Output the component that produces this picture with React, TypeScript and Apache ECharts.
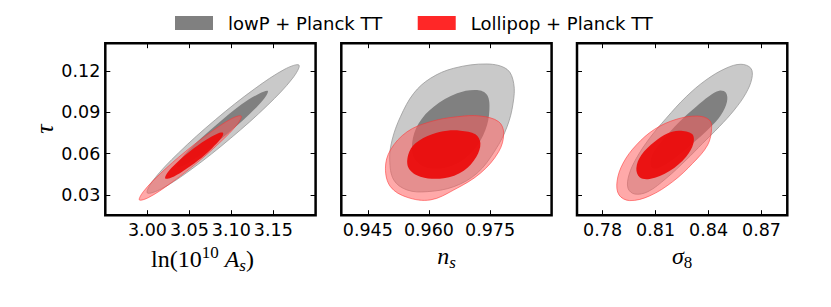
import React, { useEffect, useRef } from 'react';
import * as echarts from 'echarts';

// ---------- data ----------
const legendNames = ['lowP + Planck TT', 'Lollipop + Planck TT'];

const yTicks = [0.03, 0.06, 0.09, 0.12];
const yRange = [0.0153, 0.1402];

const xTicksAs = [3.0, 3.05, 3.1, 3.15];
const xRangeAs = [2.9498, 3.2004];
const xTicksNs = [0.945, 0.96, 0.975];
const xRangeNs = [0.9385, 0.9901];
const xTicksS8 = [0.78, 0.81, 0.84, 0.87];
const xRangeS8 = [0.7655, 0.8846];

// ln(10^10 As) vs tau
const lowP_As_95 = [
  [3.1806, 0.1243], [3.1731, 0.1148], [3.1434, 0.0953], [3.0994, 0.0713], [3.053, 0.0489], [3.0165, 0.0344],
  [2.9998, 0.0315], [3.0073, 0.041], [3.037, 0.0605], [3.0809, 0.0846], [3.1274, 0.1069], [3.1639, 0.1214],
];
const lowP_As_68 = [
  [3.1435, 0.1055], [3.139, 0.0998], [3.1212, 0.0884], [3.0947, 0.074], [3.067, 0.0608], [3.0451, 0.0521],
  [3.0352, 0.0503], [3.0397, 0.056], [3.0576, 0.0675], [3.084, 0.0818], [3.1118, 0.0956], [3.1336, 0.1037],
];
const lolli_As_95 = [
  [3.1117, 0.0873], [3.1067, 0.081], [3.0867, 0.0683], [3.0572, 0.0524], [3.0261, 0.0378], [3.0016, 0.0282],
  [2.9904, 0.0264], [2.9955, 0.0327], [3.0154, 0.0455], [3.045, 0.0614], [3.0761, 0.0759], [3.1006, 0.0855],
];
const lolli_As_68 = [
  [3.0902, 0.075], [3.0878, 0.0711], [3.0768, 0.0638], [3.0602, 0.055], [3.0422, 0.0473], [3.028, 0.0425],
  [3.0212, 0.042], [3.0236, 0.0459], [3.0346, 0.0532], [3.0512, 0.0619], [3.0691, 0.0697], [3.0833, 0.0745],
];

// n_s vs tau
const lowP_Ns_95 = [
  [0.97428, 0.1251], [0.97918, 0.1212], [0.9808, 0.1111], [0.98065, 0.0966], [0.97918, 0.0796], [0.97631, 0.0627],
  [0.97182, 0.0458], [0.96608, 0.036], [0.95956, 0.0324], [0.95465, 0.0336], [0.95137, 0.0409], [0.95038, 0.0554],
  [0.95097, 0.0699], [0.95301, 0.0868], [0.95627, 0.1038], [0.96037, 0.1147], [0.96608, 0.122],
];
const lowP_Ns_68 = [
  [0.97182, 0.1062], [0.97428, 0.1026], [0.97484, 0.0917], [0.97386, 0.0772], [0.97099, 0.0627], [0.96608, 0.0518],
  [0.96037, 0.0494], [0.95669, 0.0554], [0.95588, 0.0675], [0.9575, 0.082], [0.96118, 0.0941], [0.96692, 0.1038],
];
const lolli_Ns_95 = [
  [0.97263, 0.0873], [0.97712, 0.0832], [0.97835, 0.0748], [0.97712, 0.0614], [0.97263, 0.0458], [0.96608, 0.0336],
  [0.96037, 0.0264], [0.95465, 0.0283], [0.95056, 0.036], [0.94933, 0.0494], [0.95056, 0.0627], [0.95465, 0.0759],
  [0.96037, 0.0832], [0.96692, 0.0868],
];
const lolli_Ns_68 = [
  [0.96773, 0.0767], [0.97141, 0.0741], [0.97263, 0.0675], [0.97165, 0.0578], [0.96854, 0.0476], [0.96363, 0.0421],
  [0.95791, 0.0433], [0.95504, 0.0494], [0.9549, 0.059], [0.95669, 0.0675], [0.96078, 0.0741], [0.96446, 0.0767],
];

// sigma_8 vs tau
const lowP_S8_95 = [
  [0.85833, 0.1249], [0.86397, 0.122], [0.86454, 0.1147], [0.86115, 0.1038], [0.85456, 0.0917], [0.8461, 0.0796],
  [0.83668, 0.0675], [0.82731, 0.0554], [0.81603, 0.0421], [0.80566, 0.0324], [0.79816, 0.0307], [0.79438, 0.0349],
  [0.79494, 0.0445], [0.79911, 0.0566], [0.80662, 0.0712], [0.81603, 0.0857], [0.82731, 0.1013], [0.83859, 0.1135],
  [0.84987, 0.122],
];
const lowP_S8_68 = [
  [0.8461, 0.1057], [0.84987, 0.1042], [0.85044, 0.0977], [0.84705, 0.0881], [0.84046, 0.0784], [0.83104, 0.0675],
  [0.82072, 0.0566], [0.8113, 0.0494], [0.80757, 0.0505], [0.80814, 0.059], [0.81412, 0.0699], [0.82354, 0.0832],
  [0.83295, 0.0941], [0.84046, 0.1019],
];
const lolli_S8_95 = [
  [0.83386, 0.0873], [0.84046, 0.0844], [0.84175, 0.0784], [0.8395, 0.0663], [0.83104, 0.053], [0.81976, 0.0397],
  [0.80662, 0.0293], [0.79534, 0.0259], [0.7893, 0.03], [0.78817, 0.0397], [0.79156, 0.053], [0.79911, 0.0663],
  [0.80944, 0.0777], [0.82167, 0.0849],
];
const lolli_S8_68 = [
  [0.82354, 0.0767], [0.8307, 0.0743], [0.83143, 0.0675], [0.82731, 0.0578], [0.8179, 0.0474], [0.80662, 0.0416],
  [0.80098, 0.0428], [0.79911, 0.0494], [0.80193, 0.059], [0.80944, 0.0687], [0.81694, 0.0748],
];

// ---------- styling ----------
const GRAY_95 = '#c9c9c9';
const GRAY_68 = '#808080';
const RED_95 = 'rgba(255,90,90,0.52)';
const RED_68 = 'rgba(236,10,10,0.93)';
const LEG_GRAY = '#808080';
const LEG_RED = '#ff2727';

const SERIF = 'Liberation Serif';
const SANS = 'DejaVu Sans';

const panels = [
  {
    xRange: xRangeAs, xTicks: xTicksAs, dec: 2,
    name: '{a|ln(10}{sup|10}{a| }{i|A}{sub|s}{a|)}',
    contours: [lowP_As_95, lowP_As_68, lolli_As_95, lolli_As_68],
  },
  {
    xRange: xRangeNs, xTicks: xTicksNs, dec: 3,
    name: '{i|n}{sub|s}',
    contours: [lowP_Ns_95, lowP_Ns_68, lolli_Ns_95, lolli_Ns_68],
  },
  {
    xRange: xRangeS8, xTicks: xTicksS8, dec: 2,
    name: '{i|σ}{subr|8}',
    contours: [lowP_S8_95, lowP_S8_68, lolli_S8_95, lolli_S8_68],
  },
];

const lefts = [105.3, 341.3, 577];
const GRID_TOP = 43.2;
const GRID_W = 210.3;
const GRID_H = 172;

const richName = {
  a: { fontFamily: SERIF, fontSize: 24, lineHeight: 30, color: '#000' },
  i: { fontFamily: SERIF, fontSize: 24, lineHeight: 30, fontStyle: 'italic', color: '#000' },
  sup: { fontFamily: SERIF, fontSize: 17, lineHeight: 18, color: '#000', verticalAlign: 'top' },
  sub: { fontFamily: SERIF, fontSize: 17, lineHeight: 18, fontStyle: 'italic', color: '#000', verticalAlign: 'bottom' },
  subr: { fontFamily: SERIF, fontSize: 17, lineHeight: 18, color: '#000', verticalAlign: 'bottom' },
};

function buildOption() {
  const grid: any[] = [];
  const xAxis: any[] = [];
  const yAxis: any[] = [];
  const series: any[] = [];
  const tick = { show: true, inside: true, length: 5, lineStyle: { color: '#000', width: 1 } };

  panels.forEach((p, i) => {
    grid.push({
      left: lefts[i], top: GRID_TOP, width: GRID_W, height: GRID_H,
      show: true, borderColor: '#000', borderWidth: 2.5, backgroundColor: 'transparent',
      containLabel: false, outerBoundsMode: 'none',
    });
    xAxis.push({
      type: 'value', gridIndex: i, position: 'bottom', min: p.xRange[0], max: p.xRange[1],
      axisLine: { show: false }, splitLine: { show: false },
      axisTick: { ...tick, customValues: p.xTicks },
      axisLabel: {
        customValues: p.xTicks, formatter: (v: number) => v.toFixed(p.dec),
        fontFamily: SANS, fontSize: 17.5, color: '#000', margin: 6, hideOverlap: false,
      },
      name: p.name, nameLocation: 'middle', nameGap: 14,
      nameTextStyle: {
        fontFamily: SERIF, fontSize: 24, color: '#000', rich: richName,
        padding: i === 0 ? [0, 16, 0, 0] : [0, 0, 0, 0],
      },
    });
    xAxis.push({
      type: 'value', gridIndex: i, position: 'top', min: p.xRange[0], max: p.xRange[1],
      axisLine: { show: false }, splitLine: { show: false },
      axisTick: { ...tick, customValues: p.xTicks }, axisLabel: { show: false },
    });
    yAxis.push({
      type: 'value', gridIndex: i, position: 'left', min: yRange[0], max: yRange[1],
      axisLine: { show: false }, splitLine: { show: false },
      axisTick: { ...tick, customValues: yTicks },
      axisLabel: {
        show: i === 0, customValues: yTicks, formatter: (v: number) => v.toFixed(2),
        fontFamily: SANS, fontSize: 17.5, color: '#000', margin: 5,
      },
      name: i === 0 ? '{t|τ}' : '', nameLocation: 'middle', nameGap: 45,
      nameTextStyle: {
        fontFamily: SERIF, fontSize: 26, color: '#000',
        rich: { t: { fontFamily: SERIF, fontSize: 26, fontStyle: 'italic', color: '#000' } },
      },
    });
    yAxis.push({
      type: 'value', gridIndex: i, position: 'right', min: yRange[0], max: yRange[1],
      axisLine: { show: false }, splitLine: { show: false },
      axisTick: { ...tick, customValues: yTicks }, axisLabel: { show: false },
    });

    const styles = [
      { name: legendNames[0], fill: GRAY_95, stroke: '#9a9a9a', lw: 0.8 },
      { name: legendNames[0], fill: GRAY_68, stroke: 'none', lw: 0 },
      { name: legendNames[1], fill: RED_95, stroke: 'rgba(255,50,50,0.7)', lw: 0.8 },
      { name: legendNames[1], fill: RED_68, stroke: 'none', lw: 0 },
    ];
    p.contours.forEach((pts, k) => {
      const s = styles[k];
      series.push({
        type: 'custom', name: s.name, xAxisIndex: 2 * i, yAxisIndex: 2 * i,
        data: pts, z: 2 + k, clip: true, silent: true,
        itemStyle: { color: k < 2 ? LEG_GRAY : LEG_RED },
        renderItem: (params: any, api: any) => {
          if (params.dataIndex !== 0) return null;
          const points = pts.map((q) => api.coord(q));
          return {
            type: 'polygon',
            shape: { points, smooth: 0.36 },
            style: { fill: s.fill, stroke: s.stroke, lineWidth: s.lw },
          };
        },
      });
    });
  });

  return {
    animation: false,
    backgroundColor: '#fff',
    legend: {
      top: 9, left: 170, itemWidth: 38, itemHeight: 14, itemGap: 35.6, selectedMode: false,
      textStyle: { fontFamily: SANS, fontSize: 18, color: '#000', padding: [0, 0, 0, 10] },
      data: [
        { name: legendNames[0], icon: 'rect', itemStyle: { color: LEG_GRAY, borderWidth: 0 } },
        { name: legendNames[1], icon: 'rect', itemStyle: { color: LEG_RED, borderWidth: 0 } },
      ],
    },
    grid, xAxis, yAxis, series,
  };
}

export default function App() {
  const ref = useRef<HTMLDivElement>(null);
  useEffect(() => {
    if (!ref.current) return;
    const chart = echarts.init(ref.current, undefined, { renderer: 'svg' });
    chart.setOption(buildOption() as any);
    return () => chart.dispose();
  }, []);
  return (
    <div
      ref={ref}
      style={{ position: 'fixed', left: 0, top: 0, width: 831, height: 307, background: '#fff' }}
    />
  );
}
